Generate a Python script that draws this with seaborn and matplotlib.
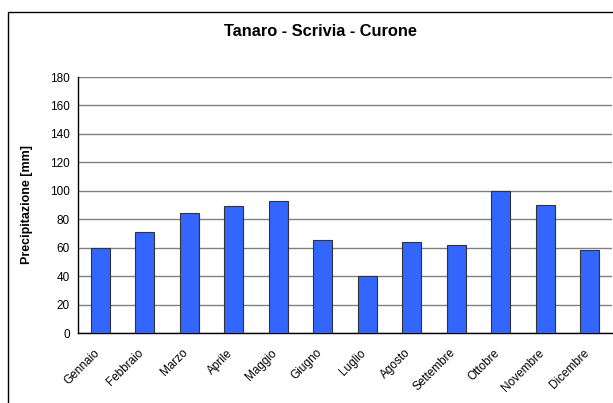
import numpy as np
import pandas as pd
import matplotlib
matplotlib.use("Agg")
import matplotlib.pyplot as plt
import seaborn as sns
from matplotlib.patches import Rectangle
from matplotlib.transforms import ScaledTranslation

months = ["Gennaio", "Febbraio", "Marzo", "Aprile", "Maggio", "Giugno",
          "Luglio", "Agosto", "Settembre", "Ottobre", "Novembre", "Dicembre"]
precip = [59.5, 71.2, 84.6, 89.5, 93.0, 65.6,
          40.3, 64.2, 61.9, 100.1, 90.2, 58.6]
yticks = list(range(0, 181, 20))

sns.set_style("white")
plt.rcParams["font.family"] = ["Liberation Sans", "DejaVu Sans"]
plt.rcParams["text.color"] = "black"
plt.rcParams["axes.labelcolor"] = "black"

df = pd.DataFrame({"mese": months, "mm": precip})

W, H = 613, 403
fig = plt.figure(figsize=(W / 100, H / 100), dpi=100)

# outer chart border (Excel style)
fig.patches.append(Rectangle((8 / W, -0.1), 1.2, (H - 12) / H + 0.1,
                             transform=fig.transFigure, fill=False,
                             edgecolor="black", linewidth=1.0))

ax = fig.add_axes([78 / W, (H - 333) / H, 534 / W, 256 / H])
sns.barplot(data=df, x="mese", y="mm", color="#3366FF", saturation=1,
            width=0.43, edgecolor="#333333", linewidth=0.8, ax=ax, zorder=3)

ax.set_xlim(-0.5, len(months) - 0.5)
ax.set_ylim(0, 180)
ax.set_yticks(yticks)
ax.yaxis.grid(True, color="#808080", linewidth=1.0, zorder=0)
ax.set_axisbelow(True)

for s in ["top", "right"]:
    ax.spines[s].set_visible(False)
for s in ["left", "bottom"]:
    ax.spines[s].set_color("black")
    ax.spines[s].set_linewidth(1.0)

ax.tick_params(axis="y", direction="out", length=4, width=1, colors="black",
               labelsize=8.5, pad=2)
ax.set_xticks(range(len(months)))
ax.set_xticklabels(months, rotation=45, ha="right", rotation_mode="anchor",
                   fontsize=8.5, color="black")
ax.tick_params(axis="x", which="major", length=0, pad=10)
ax.set_xticks(np.arange(-0.5, len(months), 1.0), minor=True)
ax.tick_params(axis="x", which="minor", direction="out", length=4, width=1,
               colors="black")
shift = ScaledTranslation(-7 / 100, 0, fig.dpi_scale_trans)
for lbl in ax.get_xticklabels():
    lbl.set_transform(lbl.get_transform() + shift)

ax.set_xlabel("")
ax.set_ylabel("Precipitazione [mm]", fontsize=9, fontweight="bold",
              color="black")
ax.yaxis.set_label_coords((33 - 78) / 534, 0.5)

fig.text(320 / W, 1 - 32 / H, "Tanaro - Scrivia - Curone", ha="center",
         va="center", fontsize=11.8, fontweight="bold", color="black")

fig.savefig("out.png", dpi=100)
